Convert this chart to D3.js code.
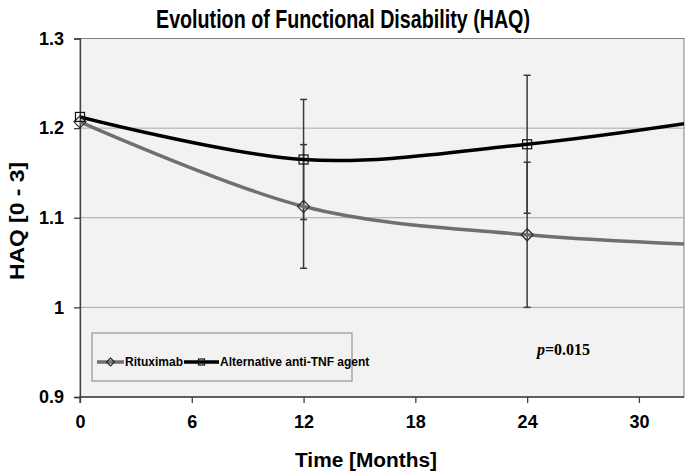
<!DOCTYPE html>
<html><head><meta charset="utf-8">
<script src="https://cdn.jsdelivr.net/npm/d3@7"></script>
<style>body{margin:0;background:#fff}svg{display:block;font-family:"Liberation Sans",Arial,sans-serif}</style>
</head><body><svg id="c" width="686" height="471"></svg>
<script>
// data
const months = [0, 12, 24];
const rituximab = [1.207, 1.1126, 1.081];
const rituximabErr = [0, 0.069, 0.081];
const alternative = [1.2125, 1.165, 1.182];
const alternativeErr = [0, 0.067, 0.077];
// unmarked continuation of the smoothed lines beyond the axis end
const extMonth = 36;
const rituximabExt = 1.068;
const alternativeExt = 1.216;
const xTicks = [0, 6, 12, 18, 24, 30];
const yTicks = [0.9, 1.0, 1.1, 1.2, 1.3];
const yTickLabels = ["0.9", "1", "1.1", "1.2", "1.3"];

const svg = d3.select("#c");
const L = 80, R = 684, T = 38.5, B = 397;
const x = d3.scaleLinear().domain([0, 32.42]).range([L, R]);
const y = d3.scaleLinear().domain([0.9, 1.3]).range([B, T]);

// title
svg.append("text").attr("x", 343).attr("y", 28).attr("text-anchor", "middle")
  .attr("font-size", 26).attr("font-weight", "bold").attr("textLength", 374)
  .attr("lengthAdjust", "spacingAndGlyphs").attr("fill", "#000")
  .text("Evolution of Functional Disability (HAQ)");

// plot background
svg.append("rect").attr("x", L).attr("y", T).attr("width", R - L).attr("height", B - T)
  .attr("fill", "#f2f2f2").attr("stroke", "#808080").attr("stroke-width", 1);

// grid
svg.append("g").selectAll("line").data([1.0, 1.1, 1.2]).join("line")
  .attr("x1", L).attr("x2", R).attr("y1", d => y(d)).attr("y2", d => y(d))
  .attr("stroke", "#a6a6a6").attr("stroke-width", 1);

// axes
const yAxis = svg.append("g").attr("transform", `translate(${L},0)`)
  .call(d3.axisLeft(y).tickValues(yTicks).tickFormat((d, i) => yTickLabels[i]).tickSize(6).tickPadding(10));
const xAxis = svg.append("g").attr("transform", `translate(0,${B})`)
  .call(d3.axisBottom(x).tickValues(xTicks).tickSize(6).tickPadding(12));
[yAxis, xAxis].forEach(g => {
  g.select(".domain").attr("stroke", "#404040").attr("stroke-width", 1.3);
  g.selectAll(".tick line").attr("stroke", "#404040").attr("stroke-width", 1.3);
  g.selectAll("text").attr("font-size", 18).attr("font-weight", "bold").attr("fill", "#000")
    .attr("font-family", '"Liberation Sans",Arial,sans-serif');
});
xAxis.select(".domain").attr("d", `M${L},6V0H${R}`);

// axis titles
svg.append("text").attr("x", 366).attr("y", 467).attr("text-anchor", "middle")
  .attr("font-size", 20).attr("font-weight", "bold").attr("textLength", 142)
  .attr("lengthAdjust", "spacingAndGlyphs").text("Time [Months]");
svg.append("text").attr("transform", "translate(24,221) rotate(-90)").attr("text-anchor", "middle")
  .attr("font-size", 20).attr("font-weight", "bold").attr("textLength", 118)
  .attr("lengthAdjust", "spacingAndGlyphs").text("HAQ [0 - 3]");

// clip
svg.append("clipPath").attr("id", "clip").append("rect")
  .attr("x", L).attr("y", T).attr("width", R - L).attr("height", B - T);

// error bars
function errBars(vals, errs) {
  const g = svg.append("g").attr("stroke", "#3a3a3a").attr("stroke-width", 1.5);
  months.forEach((m, i) => {
    if (!errs[i]) return;
    const cx = x(m);
    g.append("line").attr("x1", cx).attr("x2", cx).attr("y1", y(vals[i] - errs[i])).attr("y2", y(vals[i] + errs[i]));
    [vals[i] - errs[i], vals[i] + errs[i]].forEach(v =>
      g.append("line").attr("x1", cx - 3.5).attr("x2", cx + 3.5).attr("y1", y(v)).attr("y2", y(v)));
  });
}
errBars(rituximab, rituximabErr);
errBars(alternative, alternativeErr);

const line = d3.line().x(d => x(d[0])).y(d => y(d[1])).curve(d3.curveCardinal.tension(0));
const ritPts = months.map((m, i) => [m, rituximab[i]]).concat([[extMonth, rituximabExt]]);
const altPts = months.map((m, i) => [m, alternative[i]]).concat([[extMonth, alternativeExt]]);

svg.append("path").attr("d", line(ritPts)).attr("clip-path", "url(#clip)")
  .attr("fill", "none").attr("stroke", "#6f6f6f").attr("stroke-width", 3.5);
svg.append("path").attr("d", line(altPts)).attr("clip-path", "url(#clip)")
  .attr("fill", "none").attr("stroke", "#000").attr("stroke-width", 3.5);

// markers
function diamond(g, cx, cy, r) {
  g.append("path").attr("d", `M${cx},${cy - r}L${cx + r},${cy}L${cx},${cy + r}L${cx - r},${cy}Z`)
    .attr("fill", "none").attr("stroke", "#2a2a2a").attr("stroke-width", 1.2);
}
function square(g, cx, cy, s) {
  g.append("rect").attr("x", cx - s / 2).attr("y", cy - s / 2).attr("width", s).attr("height", s)
    .attr("fill", "none").attr("stroke", "#111").attr("stroke-width", 1.2);
}
const mk = svg.append("g");
months.forEach((m, i) => diamond(mk, x(m), y(rituximab[i]), 6));
months.forEach((m, i) => square(mk, x(m), y(alternative[i]), 9));

// legend
const lg = svg.append("g");
lg.append("rect").attr("x", 92).attr("y", 333).attr("width", 260).attr("height", 48)
  .attr("fill", "#f2f2f2").attr("stroke", "#808080").attr("stroke-width", 1);
const ly = 362;
lg.append("line").attr("x1", 97).attr("x2", 124).attr("y1", ly).attr("y2", ly)
  .attr("stroke", "#6f6f6f").attr("stroke-width", 3.5);
diamond(lg, 110.5, ly, 4);
lg.append("text").attr("x", 125).attr("y", ly + 4).attr("font-size", 12).attr("font-weight", "bold").text("Rituximab");
lg.append("line").attr("x1", 184).attr("x2", 219).attr("y1", ly).attr("y2", ly)
  .attr("stroke", "#000").attr("stroke-width", 3.5);
square(lg, 201.5, ly, 6);
lg.append("text").attr("x", 220).attr("y", ly + 4).attr("font-size", 12).attr("font-weight", "bold").text("Alternative anti-TNF agent");

// p value
const pt = svg.append("text").attr("x", 537).attr("y", 355).attr("font-family", '"Liberation Serif","Times New Roman",serif')
  .attr("font-size", 16).attr("font-weight", "bold");
pt.append("tspan").attr("font-style", "italic").text("p");
pt.append("tspan").text("=0.015");
</script></body></html>
